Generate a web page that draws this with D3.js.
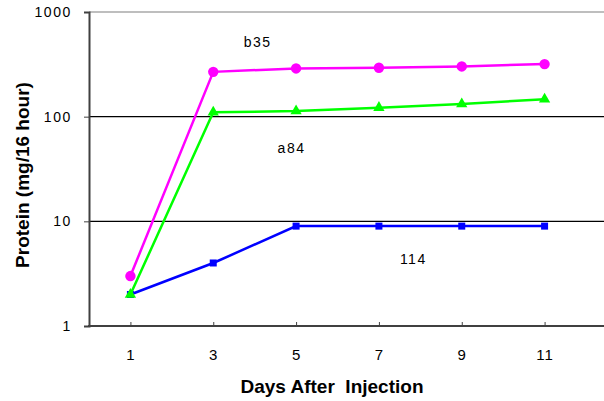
<!DOCTYPE html>
<html>
<head>
<meta charset="utf-8">
<script src="https://cdn.jsdelivr.net/npm/d3@7"></script>
<style>
  body { margin: 0; background: #fff; }
  svg { display: block; font-family: "Liberation Sans", Arial, sans-serif; }
</style>
</head>
<body>
<svg id="chart" width="604" height="401"></svg>
<script>
// values
const days = [1, 3, 5, 7, 9, 11];
const b35 = [3, 268, 289, 293, 302, 318];
const a84 = [2, 110, 113, 122, 132, 147];
const s114 = [2, 4, 9, 9, 9, 9];
const yTicks = [1, 10, 100, 1000];

const svg = d3.select("#chart");
const W = 604;

const x = d3.scaleLinear().domain([0, 12]).range([89, 586]);
const y = d3.scaleLog().domain([1, 1000]).range([326, 12]);

// gridlines
svg.append("g")
    .selectAll("line")
    .data(yTicks.slice(1))
    .join("line")
    .attr("x1", x(0)).attr("x2", W)
    .attr("y1", d => y(d)).attr("y2", d => y(d))
    .attr("stroke", d => d === 1000 ? "#7f7f7f" : "#000")
    .attr("stroke-width", 1.2);

// y axis
const yAxis = d3.axisLeft(y).tickValues(yTicks).tickFormat(d3.format("d")).tickSize(5).tickPadding(12);
const gy = svg.append("g").attr("transform", `translate(${x(0)},0)`).call(yAxis);
gy.select(".domain").attr("stroke", "#404040").attr("stroke-width", 2);
gy.selectAll(".tick line").attr("stroke", "#404040");
gy.selectAll("text").attr("font-size", 14).attr("letter-spacing", 1.6).attr("fill", "#000");

// x axis
const xAxis = d3.axisBottom(x).tickValues(days).tickSizeInner(-4).tickSizeOuter(0).tickPadding(23);
const gx = svg.append("g").attr("transform", `translate(0,${y(1)})`).call(xAxis);
gx.select(".domain").attr("stroke", "#404040").attr("stroke-width", 2)
    .attr("d", `M${x(0) - 1},0H${W}`);
gx.selectAll(".tick line").attr("stroke", "#404040");
gx.selectAll("text").attr("font-size", 15).attr("letter-spacing", 1).attr("fill", "#000");

// series (drawn bottom to top)
const series = [
  { name: "114", vals: s114, color: "#0000ff", marker: "square" },
  { name: "a84", vals: a84, color: "#00ff00", marker: "triangle" },
  { name: "b35", vals: b35, color: "#ff00ff", marker: "circle" }
];

const line = d3.line().x(d => x(d[0])).y(d => y(d[1]));

series.forEach(s => {
  const pts = days.map((d, i) => [d, s.vals[i]]);
  svg.append("path")
      .attr("d", line(pts))
      .attr("fill", "none")
      .attr("stroke", s.color)
      .attr("stroke-width", 2.5);

  const g = svg.append("g").attr("fill", s.color);
  if (s.marker === "circle") {
    g.selectAll("circle").data(pts).join("circle")
        .attr("cx", d => x(d[0])).attr("cy", d => y(d[1])).attr("r", 5.2);
  } else if (s.marker === "triangle") {
    g.selectAll("path").data(pts).join("path")
        .attr("transform", d => `translate(${x(d[0])},${y(d[1])})`)
        .attr("d", d3.symbol(d3.symbolTriangle, 55)());
  } else {
    g.selectAll("rect").data(pts).join("rect")
        .attr("x", d => x(d[0]) - 3.5).attr("y", d => y(d[1]) - 3.5)
        .attr("width", 7).attr("height", 7);
  }
});

// series labels
const labels = [
  { text: "b35", day: 4.07, val: 463 },
  { text: "a84", day: 4.89, val: 45 },
  { text: "114", day: 7.83, val: 3.9 }
];
svg.append("g").selectAll("text").data(labels).join("text")
    .attr("x", d => x(d.day)).attr("y", d => y(d.val))
    .attr("text-anchor", "middle")
    .attr("font-size", 14).attr("letter-spacing", 1.5)
    .text(d => d.text);

// axis titles
svg.append("text")
    .attr("x", 332).attr("y", 393)
    .attr("text-anchor", "middle")
    .attr("font-size", 19).attr("font-weight", "bold")
    .attr("xml:space", "preserve")
    .text("Days After  Injection");

svg.append("text")
    .attr("transform", "translate(29,175) rotate(-90)")
    .attr("text-anchor", "middle")
    .attr("font-size", 19).attr("font-weight", "bold")
    .text("Protein (mg/16 hour)");
</script>
</body>
</html>
